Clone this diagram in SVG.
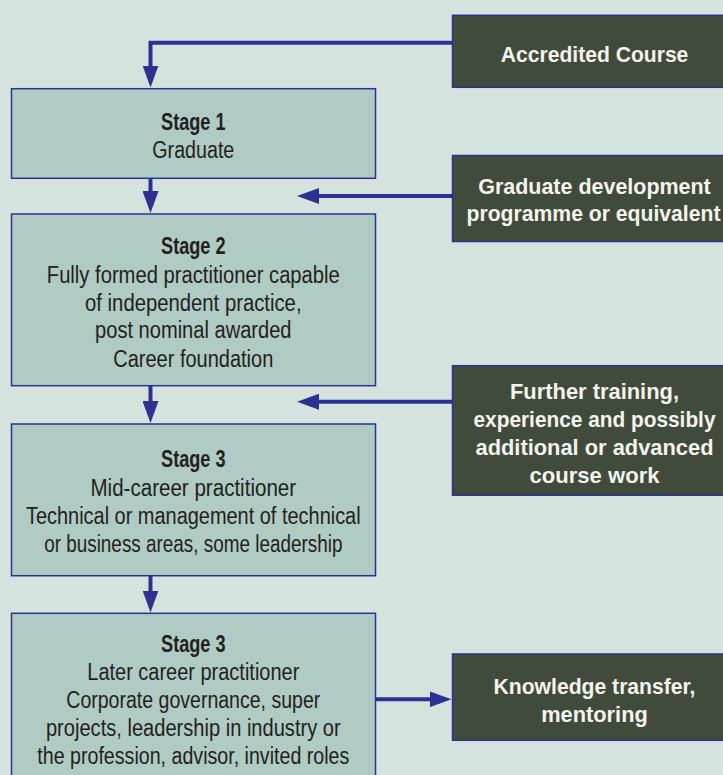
<svg xmlns="http://www.w3.org/2000/svg" width="723" height="775" viewBox="0 0 723 775">
<style>
.stage{fill:#afcbc3;stroke:#2e3192;stroke-width:1.5}
.src{fill:#414b3b;stroke:#2e3192;stroke-width:1.5}
.t{font-family:"Liberation Sans",Arial,sans-serif;font-size:23.5px;fill:#231f20;text-anchor:middle}
.tb{font-weight:bold}
.w{font-family:"Liberation Sans",Arial,sans-serif;font-size:22px;font-weight:bold;fill:#f4f4ee;text-anchor:middle}
.c{fill:none;stroke:#2e3192;stroke-width:4;marker-end:url(#ah)}
</style>
<defs>
<marker id="ah" markerUnits="userSpaceOnUse" markerWidth="22" markerHeight="16" refX="12" refY="8" orient="auto">
<path d="M0,0 L22,8 L0,16 z" fill="#2e3192"/>
</marker>
</defs>
<rect width="723" height="775" fill="#d4e3de"/>
<g id="connectors">
<path class="c" d="M452.5,42.7 H150.5 V77.5"/>
<path class="c" d="M150.5,178.3 V203"/>
<path class="c" d="M452.5,196 H307"/>
<path class="c" d="M150.5,386 V413"/>
<path class="c" d="M452.5,401.7 H307"/>
<path class="c" d="M150.5,576 V602.5"/>
<path class="c" d="M375.7,699.3 H441.5"/>
</g>
<g id="stage1">
<rect class="stage" x="11.5" y="88.7" width="364" height="89.6"/>
<text class="t tb" x="193.3" y="130" textLength="64.5" lengthAdjust="spacingAndGlyphs">Stage 1</text>
<text class="t" x="193.3" y="157.7" textLength="82" lengthAdjust="spacingAndGlyphs">Graduate</text>
</g>
<g id="stage2">
<rect class="stage" x="11.5" y="214" width="364" height="171.7"/>
<text class="t tb" x="193.3" y="254" textLength="64.5" lengthAdjust="spacingAndGlyphs">Stage 2</text>
<text class="t" x="193.3" y="283.3" textLength="293" lengthAdjust="spacingAndGlyphs">Fully formed practitioner capable</text>
<text class="t" x="193.3" y="310.7" textLength="216.5" lengthAdjust="spacingAndGlyphs">of independent practice,</text>
<text class="t" x="193.3" y="338.3" textLength="196.5" lengthAdjust="spacingAndGlyphs">post nominal awarded</text>
<text class="t" x="193.3" y="366.7" textLength="160" lengthAdjust="spacingAndGlyphs">Career foundation</text>
</g>
<g id="stage3">
<rect class="stage" x="11.5" y="424" width="364" height="151.7"/>
<text class="t tb" x="193.3" y="467.3" textLength="64.5" lengthAdjust="spacingAndGlyphs">Stage 3</text>
<text class="t" x="193.3" y="496" textLength="205.7" lengthAdjust="spacingAndGlyphs">Mid-career practitioner</text>
<text class="t" x="193.3" y="524.3" textLength="334.7" lengthAdjust="spacingAndGlyphs">Technical or management of technical</text>
<text class="t" x="193.3" y="552.3" textLength="298.3" lengthAdjust="spacingAndGlyphs">or business areas, some leadership</text>
</g>
<g id="stage4">
<rect class="stage" x="11.5" y="613.3" width="364" height="170"/>
<text class="t tb" x="193.3" y="651.7" textLength="64.5" lengthAdjust="spacingAndGlyphs">Stage 3</text>
<text class="t" x="193.3" y="680" textLength="212" lengthAdjust="spacingAndGlyphs">Later career practitioner</text>
<text class="t" x="193.3" y="707.7" textLength="254" lengthAdjust="spacingAndGlyphs">Corporate governance, super</text>
<text class="t" x="193.3" y="735.7" textLength="294.7" lengthAdjust="spacingAndGlyphs">projects, leadership in industry or</text>
<text class="t" x="193.3" y="764.3" textLength="312" lengthAdjust="spacingAndGlyphs">the profession, advisor, invited roles</text>
</g>
<g id="accredited">
<rect class="src" x="452.5" y="15.3" width="290" height="72"/>
<text class="w" x="594.6" y="61.7" textLength="187.5" lengthAdjust="spacingAndGlyphs">Accredited Course</text>
</g>
<g id="graduate-dev">
<rect class="src" x="452.5" y="155.5" width="290" height="86"/>
<text class="w" x="594.5" y="194.3" textLength="232.5" lengthAdjust="spacingAndGlyphs">Graduate development</text>
<text class="w" x="593.5" y="221" textLength="254" lengthAdjust="spacingAndGlyphs">programme or equivalent</text>
</g>
<g id="further-training">
<rect class="src" x="452.5" y="365.7" width="290" height="129.5"/>
<text class="w" x="594.5" y="398.5" textLength="169" lengthAdjust="spacingAndGlyphs">Further training,</text>
<text class="w" x="594.5" y="426.5" textLength="242" lengthAdjust="spacingAndGlyphs">experience and possibly</text>
<text class="w" x="594.5" y="454.5" textLength="238" lengthAdjust="spacingAndGlyphs">additional or advanced</text>
<text class="w" x="594.5" y="482.5" textLength="130" lengthAdjust="spacingAndGlyphs">course work</text>
</g>
<g id="knowledge">
<rect class="src" x="452.5" y="654" width="290" height="86.3"/>
<text class="w" x="594.5" y="694" textLength="202" lengthAdjust="spacingAndGlyphs">Knowledge transfer,</text>
<text class="w" x="594.5" y="722" textLength="106.5" lengthAdjust="spacingAndGlyphs">mentoring</text>
</g>
</svg>
